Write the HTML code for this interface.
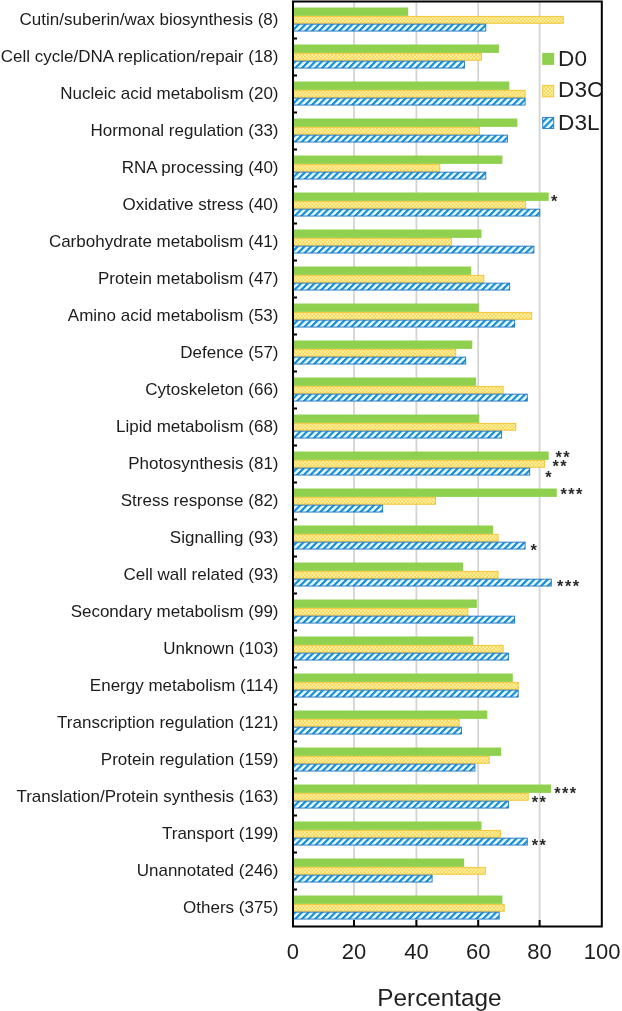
<!DOCTYPE html>
<html><head><meta charset="utf-8"><style>
html,body{margin:0;padding:0;background:#fff;}
body{width:622px;height:1011px;overflow:hidden;}
svg{display:block;will-change:transform;}
text{font-family:"Liberation Sans",sans-serif;}
</style></head><body>
<svg width="622" height="1011" viewBox="0 0 622 1011">
<defs>
<pattern id="py" patternUnits="userSpaceOnUse" width="3.6" height="3.6" x="0" y="0">
<rect width="3.6" height="3.6" fill="#fff3ad"/>
<rect x="0" y="0" width="1.8" height="1.8" fill="#f6d452"/>
<rect x="1.8" y="1.8" width="1.8" height="1.8" fill="#f6d452"/>
</pattern>
<pattern id="pb" patternUnits="userSpaceOnUse" width="6.7" height="6.7" patternTransform="skewX(-45)">
<rect width="6.7" height="6.7" fill="#e0f8ff"/>
<rect x="0" y="0" width="3.1" height="6.7" fill="#1e90d2"/>
</pattern>
</defs>
<rect width="622" height="1011" fill="#fff"/>

<rect x="353.1" y="2" width="1.8" height="924" fill="#d4d4d4"/>
<rect x="415.5" y="2" width="1.8" height="924" fill="#d4d4d4"/>
<rect x="477.3" y="2" width="1.8" height="924" fill="#d4d4d4"/>
<rect x="538.7" y="2" width="1.8" height="924" fill="#d4d4d4"/>
<rect x="293.0" y="7.50" width="115.2" height="8.4" fill="#8fd14f"/>
<rect x="293.0" y="16.35" width="270.3" height="6.9" fill="url(#py)" stroke="#f0c22a" stroke-width="0.9"/>
<rect x="293.0" y="24.15" width="192.8" height="6.9" fill="url(#pb)" stroke="#1f72bd" stroke-width="0.9"/>
<rect x="293.0" y="44.50" width="205.9" height="8.4" fill="#8fd14f"/>
<rect x="293.0" y="53.35" width="188.4" height="6.9" fill="url(#py)" stroke="#f0c22a" stroke-width="0.9"/>
<rect x="293.0" y="61.15" width="171.4" height="6.9" fill="url(#pb)" stroke="#1f72bd" stroke-width="0.9"/>
<rect x="293.0" y="81.50" width="216.3" height="8.4" fill="#8fd14f"/>
<rect x="293.0" y="90.35" width="232.1" height="6.9" fill="url(#py)" stroke="#f0c22a" stroke-width="0.9"/>
<rect x="293.0" y="98.15" width="232.1" height="6.9" fill="url(#pb)" stroke="#1f72bd" stroke-width="0.9"/>
<rect x="293.0" y="118.50" width="224.4" height="8.4" fill="#8fd14f"/>
<rect x="293.0" y="127.35" width="186.6" height="6.9" fill="url(#py)" stroke="#f0c22a" stroke-width="0.9"/>
<rect x="293.0" y="135.15" width="214.4" height="6.9" fill="url(#pb)" stroke="#1f72bd" stroke-width="0.9"/>
<rect x="293.0" y="155.50" width="209.4" height="8.4" fill="#8fd14f"/>
<rect x="293.0" y="164.35" width="146.8" height="6.9" fill="url(#py)" stroke="#f0c22a" stroke-width="0.9"/>
<rect x="293.0" y="172.15" width="192.8" height="6.9" fill="url(#pb)" stroke="#1f72bd" stroke-width="0.9"/>
<rect x="293.0" y="192.50" width="255.7" height="8.4" fill="#8fd14f"/>
<rect x="293.0" y="201.35" width="232.4" height="6.9" fill="url(#py)" stroke="#f0c22a" stroke-width="0.9"/>
<rect x="293.0" y="209.15" width="246.8" height="6.9" fill="url(#pb)" stroke="#1f72bd" stroke-width="0.9"/>
<rect x="293.0" y="229.50" width="188.5" height="8.4" fill="#8fd14f"/>
<rect x="293.0" y="238.35" width="158.4" height="6.9" fill="url(#py)" stroke="#f0c22a" stroke-width="0.9"/>
<rect x="293.0" y="246.15" width="240.9" height="6.9" fill="url(#pb)" stroke="#1f72bd" stroke-width="0.9"/>
<rect x="293.0" y="266.50" width="178.1" height="8.4" fill="#8fd14f"/>
<rect x="293.0" y="275.35" width="190.8" height="6.9" fill="url(#py)" stroke="#f0c22a" stroke-width="0.9"/>
<rect x="293.0" y="283.15" width="216.7" height="6.9" fill="url(#pb)" stroke="#1f72bd" stroke-width="0.9"/>
<rect x="293.0" y="303.50" width="185.8" height="8.4" fill="#8fd14f"/>
<rect x="293.0" y="312.35" width="238.7" height="6.9" fill="url(#py)" stroke="#f0c22a" stroke-width="0.9"/>
<rect x="293.0" y="320.15" width="221.7" height="6.9" fill="url(#pb)" stroke="#1f72bd" stroke-width="0.9"/>
<rect x="293.0" y="340.50" width="179.3" height="8.4" fill="#8fd14f"/>
<rect x="293.0" y="349.35" width="162.7" height="6.9" fill="url(#py)" stroke="#f0c22a" stroke-width="0.9"/>
<rect x="293.0" y="357.15" width="172.7" height="6.9" fill="url(#pb)" stroke="#1f72bd" stroke-width="0.9"/>
<rect x="293.0" y="377.50" width="183.1" height="8.4" fill="#8fd14f"/>
<rect x="293.0" y="386.35" width="210.1" height="6.9" fill="url(#py)" stroke="#f0c22a" stroke-width="0.9"/>
<rect x="293.0" y="394.15" width="234.3" height="6.9" fill="url(#pb)" stroke="#1f72bd" stroke-width="0.9"/>
<rect x="293.0" y="414.50" width="186.2" height="8.4" fill="#8fd14f"/>
<rect x="293.0" y="423.35" width="222.8" height="6.9" fill="url(#py)" stroke="#f0c22a" stroke-width="0.9"/>
<rect x="293.0" y="431.15" width="208.6" height="6.9" fill="url(#pb)" stroke="#1f72bd" stroke-width="0.9"/>
<rect x="293.0" y="451.50" width="255.7" height="8.4" fill="#8fd14f"/>
<rect x="293.0" y="460.35" width="251.8" height="6.9" fill="url(#py)" stroke="#f0c22a" stroke-width="0.9"/>
<rect x="293.0" y="468.15" width="236.7" height="6.9" fill="url(#pb)" stroke="#1f72bd" stroke-width="0.9"/>
<rect x="293.0" y="488.50" width="263.8" height="8.4" fill="#8fd14f"/>
<rect x="293.0" y="497.35" width="142.6" height="6.9" fill="url(#py)" stroke="#f0c22a" stroke-width="0.9"/>
<rect x="293.0" y="505.15" width="89.7" height="6.9" fill="url(#pb)" stroke="#1f72bd" stroke-width="0.9"/>
<rect x="293.0" y="525.50" width="200.1" height="8.4" fill="#8fd14f"/>
<rect x="293.0" y="534.35" width="205.1" height="6.9" fill="url(#py)" stroke="#f0c22a" stroke-width="0.9"/>
<rect x="293.0" y="542.15" width="232.1" height="6.9" fill="url(#pb)" stroke="#1f72bd" stroke-width="0.9"/>
<rect x="293.0" y="562.50" width="170.0" height="8.4" fill="#8fd14f"/>
<rect x="293.0" y="571.35" width="205.1" height="6.9" fill="url(#py)" stroke="#f0c22a" stroke-width="0.9"/>
<rect x="293.0" y="579.15" width="258.3" height="6.9" fill="url(#pb)" stroke="#1f72bd" stroke-width="0.9"/>
<rect x="293.0" y="599.50" width="183.9" height="8.4" fill="#8fd14f"/>
<rect x="293.0" y="608.35" width="174.9" height="6.9" fill="url(#py)" stroke="#f0c22a" stroke-width="0.9"/>
<rect x="293.0" y="616.15" width="221.7" height="6.9" fill="url(#pb)" stroke="#1f72bd" stroke-width="0.9"/>
<rect x="293.0" y="636.50" width="180.4" height="8.4" fill="#8fd14f"/>
<rect x="293.0" y="645.35" width="210.1" height="6.9" fill="url(#py)" stroke="#f0c22a" stroke-width="0.9"/>
<rect x="293.0" y="653.15" width="215.4" height="6.9" fill="url(#pb)" stroke="#1f72bd" stroke-width="0.9"/>
<rect x="293.0" y="673.50" width="219.8" height="8.4" fill="#8fd14f"/>
<rect x="293.0" y="682.35" width="225.2" height="6.9" fill="url(#py)" stroke="#f0c22a" stroke-width="0.9"/>
<rect x="293.0" y="690.15" width="225.2" height="6.9" fill="url(#pb)" stroke="#1f72bd" stroke-width="0.9"/>
<rect x="293.0" y="710.50" width="194.3" height="8.4" fill="#8fd14f"/>
<rect x="293.0" y="719.35" width="166.1" height="6.9" fill="url(#py)" stroke="#f0c22a" stroke-width="0.9"/>
<rect x="293.0" y="727.15" width="168.4" height="6.9" fill="url(#pb)" stroke="#1f72bd" stroke-width="0.9"/>
<rect x="293.0" y="747.50" width="208.2" height="8.4" fill="#8fd14f"/>
<rect x="293.0" y="756.35" width="196.2" height="6.9" fill="url(#py)" stroke="#f0c22a" stroke-width="0.9"/>
<rect x="293.0" y="764.15" width="181.9" height="6.9" fill="url(#pb)" stroke="#1f72bd" stroke-width="0.9"/>
<rect x="293.0" y="784.50" width="258.0" height="8.4" fill="#8fd14f"/>
<rect x="293.0" y="793.35" width="235.2" height="6.9" fill="url(#py)" stroke="#f0c22a" stroke-width="0.9"/>
<rect x="293.0" y="801.15" width="215.4" height="6.9" fill="url(#pb)" stroke="#1f72bd" stroke-width="0.9"/>
<rect x="293.0" y="821.50" width="188.5" height="8.4" fill="#8fd14f"/>
<rect x="293.0" y="830.35" width="207.4" height="6.9" fill="url(#py)" stroke="#f0c22a" stroke-width="0.9"/>
<rect x="293.0" y="838.15" width="234.3" height="6.9" fill="url(#pb)" stroke="#1f72bd" stroke-width="0.9"/>
<rect x="293.0" y="858.50" width="171.2" height="8.4" fill="#8fd14f"/>
<rect x="293.0" y="867.35" width="192.4" height="6.9" fill="url(#py)" stroke="#f0c22a" stroke-width="0.9"/>
<rect x="293.0" y="875.15" width="139.1" height="6.9" fill="url(#pb)" stroke="#1f72bd" stroke-width="0.9"/>
<rect x="293.0" y="895.50" width="209.4" height="8.4" fill="#8fd14f"/>
<rect x="293.0" y="904.35" width="211.2" height="6.9" fill="url(#py)" stroke="#f0c22a" stroke-width="0.9"/>
<rect x="293.0" y="912.15" width="206.2" height="6.9" fill="url(#pb)" stroke="#1f72bd" stroke-width="0.9"/>
<rect x="293" y="1.5" width="308.8" height="925" fill="none" stroke="#000" stroke-width="2"/>
<rect x="293" y="37.50" width="4" height="2" fill="#000"/>
<rect x="293" y="74.50" width="4" height="2" fill="#000"/>
<rect x="293" y="111.50" width="4" height="2" fill="#000"/>
<rect x="293" y="148.50" width="4" height="2" fill="#000"/>
<rect x="293" y="185.50" width="4" height="2" fill="#000"/>
<rect x="293" y="222.50" width="4" height="2" fill="#000"/>
<rect x="293" y="259.50" width="4" height="2" fill="#000"/>
<rect x="293" y="296.50" width="4" height="2" fill="#000"/>
<rect x="293" y="333.50" width="4" height="2" fill="#000"/>
<rect x="293" y="370.50" width="4" height="2" fill="#000"/>
<rect x="293" y="407.50" width="4" height="2" fill="#000"/>
<rect x="293" y="444.50" width="4" height="2" fill="#000"/>
<rect x="293" y="481.50" width="4" height="2" fill="#000"/>
<rect x="293" y="518.50" width="4" height="2" fill="#000"/>
<rect x="293" y="555.50" width="4" height="2" fill="#000"/>
<rect x="293" y="592.50" width="4" height="2" fill="#000"/>
<rect x="293" y="629.50" width="4" height="2" fill="#000"/>
<rect x="293" y="666.50" width="4" height="2" fill="#000"/>
<rect x="293" y="703.50" width="4" height="2" fill="#000"/>
<rect x="293" y="740.50" width="4" height="2" fill="#000"/>
<rect x="293" y="777.50" width="4" height="2" fill="#000"/>
<rect x="293" y="814.50" width="4" height="2" fill="#000"/>
<rect x="293" y="851.50" width="4" height="2" fill="#000"/>
<rect x="293" y="888.50" width="4" height="2" fill="#000"/>
<rect x="353.0" y="920" width="2" height="6" fill="#000"/>
<rect x="415.4" y="920" width="2" height="6" fill="#000"/>
<rect x="477.2" y="920" width="2" height="6" fill="#000"/>
<rect x="538.6" y="920" width="2" height="6" fill="#000"/>
<text x="278.5" y="24.9" font-size="17" text-anchor="end" fill="#1c1c1c">Cutin/suberin/wax biosynthesis (8)</text>
<text x="278.5" y="61.9" font-size="17" text-anchor="end" fill="#1c1c1c">Cell cycle/DNA replication/repair (18)</text>
<text x="278.5" y="98.9" font-size="17" text-anchor="end" fill="#1c1c1c">Nucleic acid metabolism (20)</text>
<text x="278.5" y="135.9" font-size="17" text-anchor="end" fill="#1c1c1c">Hormonal regulation (33)</text>
<text x="278.5" y="172.9" font-size="17" text-anchor="end" fill="#1c1c1c">RNA processing (40)</text>
<text x="278.5" y="209.9" font-size="17" text-anchor="end" fill="#1c1c1c">Oxidative stress (40)</text>
<text x="278.5" y="246.9" font-size="17" text-anchor="end" fill="#1c1c1c">Carbohydrate metabolism (41)</text>
<text x="278.5" y="283.9" font-size="17" text-anchor="end" fill="#1c1c1c">Protein metabolism (47)</text>
<text x="278.5" y="320.9" font-size="17" text-anchor="end" fill="#1c1c1c">Amino acid metabolism (53)</text>
<text x="278.5" y="357.9" font-size="17" text-anchor="end" fill="#1c1c1c">Defence (57)</text>
<text x="278.5" y="394.9" font-size="17" text-anchor="end" fill="#1c1c1c">Cytoskeleton (66)</text>
<text x="278.5" y="431.9" font-size="17" text-anchor="end" fill="#1c1c1c">Lipid metabolism (68)</text>
<text x="278.5" y="468.9" font-size="17" text-anchor="end" fill="#1c1c1c">Photosynthesis (81)</text>
<text x="278.5" y="505.9" font-size="17" text-anchor="end" fill="#1c1c1c">Stress response (82)</text>
<text x="278.5" y="542.9" font-size="17" text-anchor="end" fill="#1c1c1c">Signalling (93)</text>
<text x="278.5" y="579.9" font-size="17" text-anchor="end" fill="#1c1c1c">Cell wall related (93)</text>
<text x="278.5" y="616.9" font-size="17" text-anchor="end" fill="#1c1c1c">Secondary metabolism (99)</text>
<text x="278.5" y="653.9" font-size="17" text-anchor="end" fill="#1c1c1c">Unknown (103)</text>
<text x="278.5" y="690.9" font-size="17" text-anchor="end" fill="#1c1c1c">Energy metabolism (114)</text>
<text x="278.5" y="727.9" font-size="17" text-anchor="end" fill="#1c1c1c">Transcription regulation (121)</text>
<text x="278.5" y="764.9" font-size="17" text-anchor="end" fill="#1c1c1c">Protein regulation (159)</text>
<text x="278.5" y="801.9" font-size="17" text-anchor="end" fill="#1c1c1c">Translation/Protein synthesis (163)</text>
<text x="278.5" y="838.9" font-size="17" text-anchor="end" fill="#1c1c1c">Transport (199)</text>
<text x="278.5" y="875.9" font-size="17" text-anchor="end" fill="#1c1c1c">Unannotated (246)</text>
<text x="278.5" y="912.9" font-size="17" text-anchor="end" fill="#1c1c1c">Others (375)</text>
<text x="292.8" y="959" font-size="22" text-anchor="middle" fill="#1e1e1e">0</text>
<text x="354.0" y="959" font-size="22" text-anchor="middle" fill="#1e1e1e">20</text>
<text x="416.4" y="959" font-size="22" text-anchor="middle" fill="#1e1e1e">40</text>
<text x="478.2" y="959" font-size="22" text-anchor="middle" fill="#1e1e1e">60</text>
<text x="539.6" y="959" font-size="22" text-anchor="middle" fill="#1e1e1e">80</text>
<text x="602.2" y="959" font-size="22" text-anchor="middle" fill="#1e1e1e">100</text>
<text x="439.5" y="1005.5" font-size="24.3" text-anchor="middle" fill="#1e1e1e">Percentage</text>
<rect x="542.2" y="52.9" width="12" height="12" fill="#8fd14f"/>
<rect x="542.7" y="85.4" width="11" height="11.5" fill="url(#py)" stroke="#f0c22a" stroke-width="0.9"/>
<rect x="542.7" y="117.4" width="11" height="11" fill="url(#pb)" stroke="#1f72bd" stroke-width="0.9"/>
<text x="558.1" y="66.2" font-size="22.6" fill="#1e1e1e">D0</text>
<text x="558.1" y="97.4" font-size="22.6" fill="#1e1e1e">D3C</text>
<text x="558.1" y="129.6" font-size="22.6" fill="#1e1e1e">D3L</text>
<text x="551.0" y="207.3" font-size="16.3" font-weight="bold" letter-spacing="1.45" fill="#2a2a2a">*</text>
<text x="555.4" y="463.3" font-size="16.3" font-weight="bold" letter-spacing="1.45" fill="#2a2a2a">**</text>
<text x="552.5" y="472.3" font-size="16.3" font-weight="bold" letter-spacing="1.45" fill="#2a2a2a">**</text>
<text x="545.2" y="482.9" font-size="16.3" font-weight="bold" letter-spacing="1.45" fill="#2a2a2a">*</text>
<text x="560.4" y="500.2" font-size="16.3" font-weight="bold" letter-spacing="1.45" fill="#2a2a2a">***</text>
<text x="530.4" y="555.9" font-size="16.3" font-weight="bold" letter-spacing="1.45" fill="#2a2a2a">*</text>
<text x="557.1" y="591.9" font-size="16.3" font-weight="bold" letter-spacing="1.45" fill="#2a2a2a">***</text>
<text x="554.2" y="799.2" font-size="16.3" font-weight="bold" letter-spacing="1.45" fill="#2a2a2a">***</text>
<text x="531.8" y="808.4" font-size="16.3" font-weight="bold" letter-spacing="1.45" fill="#2a2a2a">**</text>
<text x="531.8" y="851.4" font-size="16.3" font-weight="bold" letter-spacing="1.45" fill="#2a2a2a">**</text>
</svg></body></html>
